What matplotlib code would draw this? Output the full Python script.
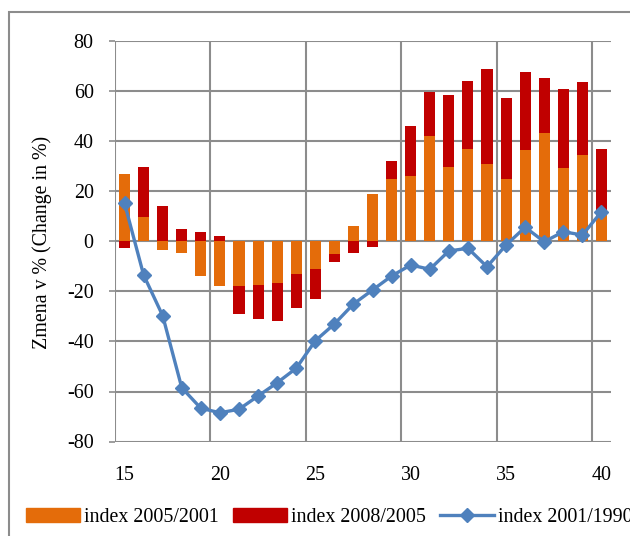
import numpy as np
import matplotlib
matplotlib.use('Agg')
import matplotlib.pyplot as plt
from matplotlib.patches import Rectangle
from matplotlib.lines import Line2D

plt.rcParams['font.family'] = ['Liberation Serif', 'DejaVu Serif']
plt.rcParams['axes.unicode_minus'] = False

# ages 15..40
ages = list(range(15, 41))
idx_2005_2001 = [27, 9.7, -3.5, -4.7, -14, -18, -18, -17.5, -16.7, -13, -10.9, -5, 6,
                 19, 25, 26, 42.3, 29.8, 37.1, 31, 25, 36.6, 43.4, 29.4, 34.7, 12]
idx_2008_2005 = [-2.7, 20, 14, 5, 3.7, 2.2, -11, -13.5, -15, -13.6, -12, -3.3, -4.7,
                 -2.3, 7.3, 20, 17.6, 28.8, 27.2, 37.9, 32.5, 31.2, 21.9, 31.5, 29.2, 25]
idx_2001_1990 = [15.3, -13.4, -29.7, -58.5, -66.7, -68.5, -67.1, -61.8, -56.5, -50.7,
                 -39.7, -33, -25, -19.4, -13.8, -9.4, -11.1, -3.8, -2.7, -10.1, -1.4,
                 5.7, -0.1, 3.9, 2.6, 11.9]

orange = '#E46C0A'
red = '#C00000'
blue = '#4F81BD'
grid_col = '#8C8C8C'
fs = 14.4

fig = plt.figure(figsize=(6.3, 5.36), dpi=100)
ax = fig.add_axes([115 / 630, 1 - 441.5 / 536, 496 / 630, 400 / 536])

x = np.array(ages)
a = np.array(idx_2005_2001)
b = np.array(idx_2008_2005)
# excel-style stacking: positives on positives, negatives on negatives
b_bottom = np.where(b >= 0, np.maximum(a, 0), np.minimum(a, 0))

w = 0.58
ax.bar(x, a, width=w, color=orange, zorder=2, label='index 2005/2001')
ax.bar(x, b, width=w, bottom=b_bottom, color=red, zorder=2, label='index 2008/2005')
ax.plot(x, idx_2001_1990, color=blue, lw=2.4, marker='D', ms=7.5, zorder=4,
        label='index 2001/1990')

ax.set_xlim(14.5, 40.5)
ax.set_ylim(-80, 80)
ax.set_yticks(range(-80, 81, 20))
ax.set_xticks([15, 20, 25, 30, 35, 40])
for yv in range(-80, 81, 20):
    ax.axhline(yv, color=grid_col, lw=1.5, zorder=1)
for xv in [14.5, 19.5, 24.5, 29.5, 34.5, 39.5]:
    ax.axvline(xv, color=grid_col, lw=1.5, zorder=1)
for s in ax.spines.values():
    s.set_visible(False)
ax.tick_params(axis='y', direction='out', length=4.3, width=1.2, color=grid_col,
               pad=11, labelsize=fs)
ax.tick_params(axis='x', length=0, pad=18, labelsize=fs)

fig.text(42 / 630, 1 - 242 / 536, 'Zmena v % (Change in %)', rotation=90,
         ha='center', va='center', fontsize=fs)

# chart area border (clipped at right and bottom)
fig.add_artist(Rectangle((9 / 630, -0.1), 1.2, 1.1 - 12 / 536, transform=fig.transFigure,
                         fill=False, edgecolor=grid_col, lw=1.5))

handles = [Rectangle((0, 0), 1, 1, color=orange),
           Rectangle((0, 0), 1, 1, color=red),
           Line2D([], [], color=blue, lw=2.4, marker='D', ms=7.5)]
labels = ['index 2005/2001', 'index 2008/2005', 'index 2001/1990']
fig.legend(handles, labels, loc='center left', bbox_to_anchor=(26 / 630, 1 - 517 / 536),
           ncol=3, frameon=False, fontsize=fs, handlelength=2.7, handletextpad=0.2,
           columnspacing=0.7, borderpad=0, borderaxespad=0)

fig.savefig('out.png', dpi=100)
